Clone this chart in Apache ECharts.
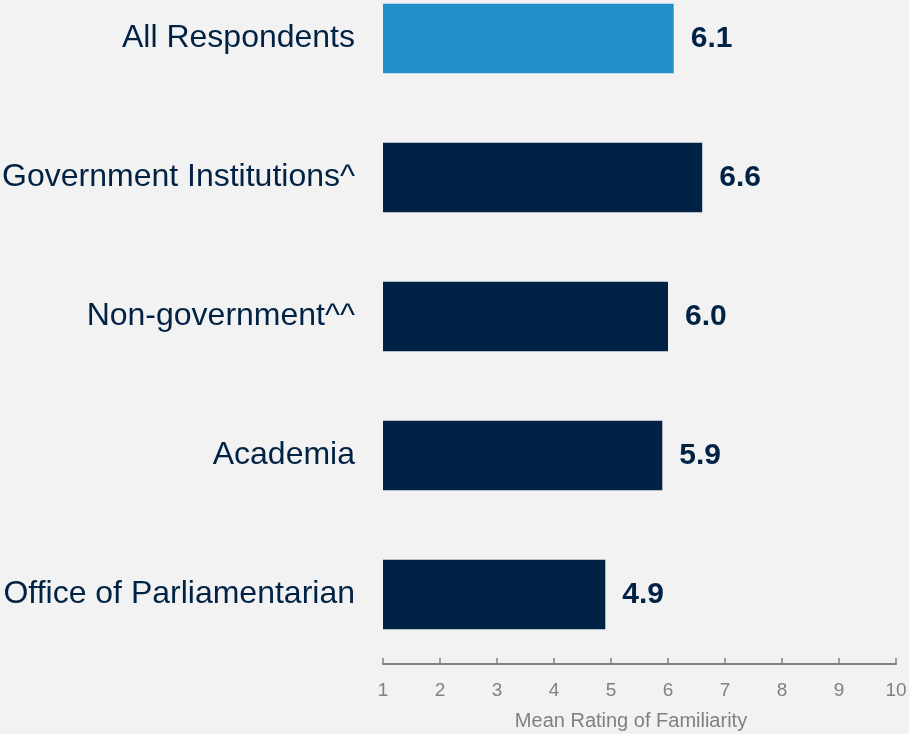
<!DOCTYPE html>
<html><head><meta charset="utf-8">
<script src="https://cdn.jsdelivr.net/npm/echarts@6/dist/echarts.min.js"></script>
<style>html,body{margin:0;padding:0;background:#f2f2f2;}#c{width:909px;height:734px;}</style>
</head><body><div id="c"></div>
<script>
const categories = ["All Respondents","Government Institutions^","Non-government^^","Academia","Office of Parliamentarian"];
const values = [6.1, 6.6, 6.0, 5.9, 4.9];
const highlight = [true, false, false, false, false];
const xTicks = [1,2,3,4,5,6,7,8,9,10];

const chart = echarts.init(document.getElementById('c'));
chart.setOption({
  backgroundColor: '#f2f2f2',
  animation: false,
  textStyle: {fontFamily: 'Liberation Sans, Arial, sans-serif'},
  grid: {left: 383, right: 13, top: -31, bottom: 70, containLabel: false, outerBoundsMode: 'none'},
  xAxis: {
    type: 'value', min: xTicks[0], max: xTicks[xTicks.length-1], interval: 1,
    splitLine: {show: false},
    axisLine: {show: true, lineStyle: {color: '#808080', width: 2}},
    axisTick: {show: true, inside: true, length: 6, lineStyle: {color: '#808080', width: 1.5}},
    axisLabel: {color: '#808080', fontSize: 19, margin: 17},
    name: 'Mean Rating of Familiarity', nameLocation: 'middle', nameGap: 47,
    nameTextStyle: {color: '#808080', fontSize: 20, padding: [0, 17, 0, 0]}
  },
  yAxis: {
    type: 'category', data: categories, inverse: true,
    axisLine: {show: false}, axisTick: {show: false},
    axisLabel: {color: '#002244', fontSize: 32, margin: 28}
  },
  series: [{
    type: 'bar', barCategoryGap: '50%',
    data: values.map((v, i) => ({value: v, itemStyle: {color: highlight[i] ? '#2190c8' : '#002244'}})),
    label: {show: true, position: 'right', distance: 17, color: '#002244', fontSize: 30, fontWeight: 'bold',
      formatter: p => p.value.toFixed(1)}
  }]
});
</script></body></html>
